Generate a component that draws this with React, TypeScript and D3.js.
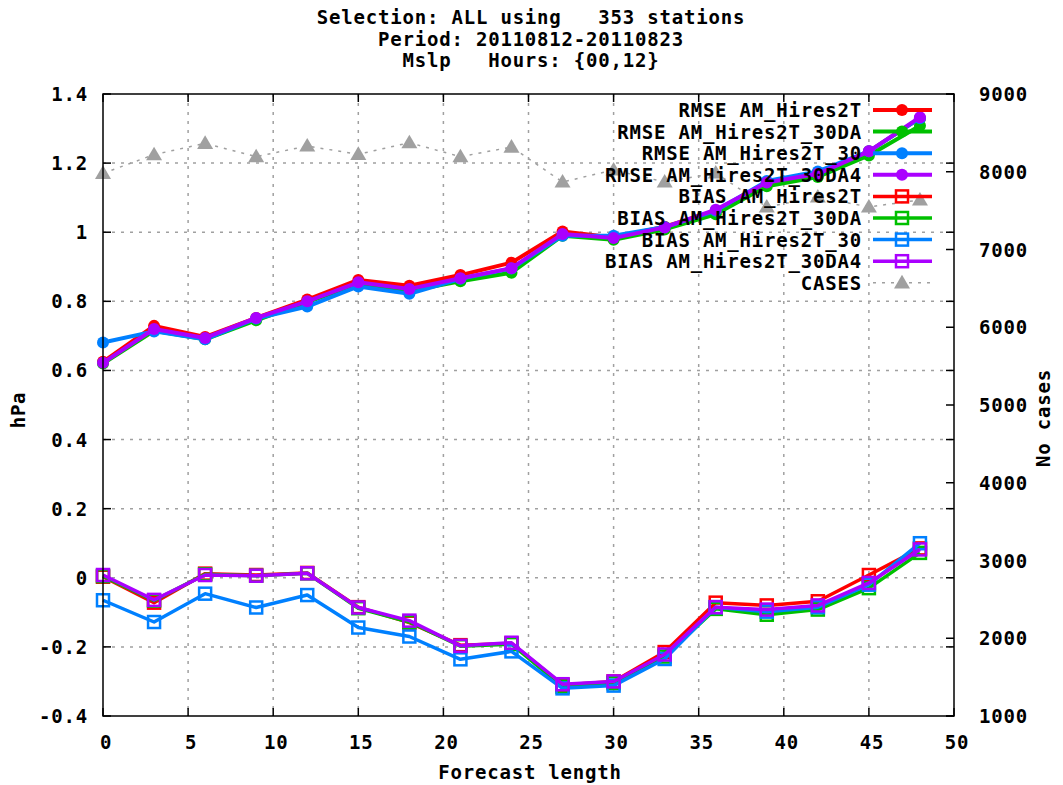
import * as d3 from 'd3';

// forecast lead times (hours)
const leadTimes = [0, 3, 6, 9, 12, 15, 18, 21, 24, 27, 30, 33, 36, 39, 42, 45, 48];

const rmseHires2T = [0.625, 0.729, 0.697, 0.752, 0.805, 0.862, 0.845, 0.876, 0.912, 1.002, 0.985, 1.016, 1.062, 1.142, 1.170, 1.234, 1.330];
const rmseHires2T30DA = [0.620, 0.715, 0.690, 0.745, 0.798, 0.850, 0.830, 0.858, 0.883, 0.990, 0.978, 1.008, 1.052, 1.133, 1.160, 1.222, 1.308];
const rmseHires2T30 = [0.681, 0.713, 0.690, 0.750, 0.785, 0.843, 0.822, 0.865, 0.895, 0.990, 0.990, 1.015, 1.062, 1.148, 1.176, 1.234, 1.330];
const rmseHires2T30DA4 = [0.622, 0.720, 0.694, 0.752, 0.800, 0.855, 0.836, 0.867, 0.896, 0.995, 0.983, 1.014, 1.065, 1.144, 1.169, 1.234, 1.333];

const biasHires2T = [0.003, -0.072, 0.012, 0.008, 0.014, -0.085, -0.130, -0.195, -0.190, -0.310, -0.300, -0.215, -0.072, -0.080, -0.068, 0.008, 0.085];
const biasHires2T30DA = [0.005, -0.066, 0.010, 0.006, 0.013, -0.088, -0.128, -0.198, -0.192, -0.315, -0.305, -0.228, -0.090, -0.107, -0.092, -0.030, 0.072];
const biasHires2T30 = [-0.065, -0.128, -0.046, -0.086, -0.050, -0.144, -0.170, -0.236, -0.213, -0.320, -0.312, -0.235, -0.085, -0.098, -0.085, -0.020, 0.100];
const biasHires2T30DA4 = [0.008, -0.064, 0.008, 0.006, 0.013, -0.086, -0.124, -0.197, -0.188, -0.308, -0.300, -0.222, -0.085, -0.092, -0.080, -0.015, 0.082];

const cases = [7980, 8220, 8366, 8194, 8331, 8224, 8374, 8194, 8318, 7868, 8023, 7868, 7984, 7547, 7675, 7547, 7637];

const titleLines = ['Selection: ALL using   353 stations', 'Period: 20110812-20110823', 'Mslp   Hours: {00,12}'];
const xTicks = [0, 5, 10, 15, 20, 25, 30, 35, 40, 45, 50];
const yTicks = [-0.4, -0.2, 0, 0.2, 0.4, 0.6, 0.8, 1, 1.2, 1.4];
const y2Ticks = [1000, 2000, 3000, 4000, 5000, 6000, 7000, 8000, 9000];

const series = [
    { label: 'RMSE AM_Hires2T', values: rmseHires2T, color: '#ff0000', marker: 'dot' },
    { label: 'RMSE AM_Hires2T_30DA', values: rmseHires2T30DA, color: '#00c000', marker: 'dot' },
    { label: 'RMSE AM_Hires2T_30', values: rmseHires2T30, color: '#0080ff', marker: 'dot' },
    { label: 'RMSE AM_Hires2T_30DA4', values: rmseHires2T30DA4, color: '#aa00ff', marker: 'dot' },
    { label: 'BIAS AM_Hires2T', values: biasHires2T, color: '#ff0000', marker: 'square' },
    { label: 'BIAS AM_Hires2T_30DA', values: biasHires2T30DA, color: '#00c000', marker: 'square' },
    { label: 'BIAS AM_Hires2T_30', values: biasHires2T30, color: '#0080ff', marker: 'square' },
    { label: 'BIAS AM_Hires2T_30DA4', values: biasHires2T30DA4, color: '#aa00ff', marker: 'square' },
];

const width = 1063;
const height = 785;
const plot = { left: 103, right: 954, top: 94, bottom: 716 };
const font = "'DejaVu Sans Mono', monospace";
const gridColor = '#a0a0a0';
const caseColor = '#a0a0a0';

const xScale = d3.scaleLinear().domain([0, 50]).range([plot.left, plot.right]);
const yScale = d3.scaleLinear().domain([-0.4, 1.4]).range([plot.bottom, plot.top]);
const y2Scale = d3.scaleLinear().domain([1000, 9000]).range([plot.bottom, plot.top]);

function Marker({ kind, x, y, color }: { kind: string; x: number; y: number; color: string }) {
    if (kind === 'dot') {
        return <circle cx={x} cy={y} r={6} fill={color} />;
    }
    if (kind === 'square') {
        return <rect x={x - 6} y={y - 6} width={12} height={12} fill="none" stroke={color} strokeWidth={2.5} />;
    }
    // triangle
    const s = 8;
    return <path d={`M${x},${y - s}L${x + s},${y + s * 0.7}L${x - s},${y + s * 0.7}Z`} fill={color} />;
}

const App = () => {
    const line = d3.line<number>()
        .x((_, i) => xScale(leadTimes[i]))
        .y(d => yScale(d));

    const caseLine = d3.line<number>()
        .x((_, i) => xScale(leadTimes[i]))
        .y(d => y2Scale(d));

    const legendY = (i: number) => 110 + i * 21.6;
    const textStyle = { fontFamily: font, fontWeight: 700, fontSize: 19, letterSpacing: 0.8, whiteSpace: 'pre' as const };

    return (
        <svg width={width} height={height} style={{ position: 'absolute', left: 0, top: 0, background: '#fff' }}>
            <rect width={width} height={height} fill="#fff" />

            {/* title */}
            {titleLines.map((t, i) => (
                <text key={t} x={531} y={17 + i * 21.5} textAnchor="middle" dominantBaseline="central" style={textStyle}>{t}</text>
            ))}

            {/* grid */}
            {xTicks.slice(1, -1).map(t => (
                <line key={'gx' + t} x1={xScale(t)} x2={xScale(t)} y1={plot.top} y2={plot.bottom}
                    stroke={gridColor} strokeWidth={1.5} strokeDasharray="3,6" />
            ))}
            {yTicks.slice(1, -1).map(t => (
                <line key={'gy' + t} x1={plot.left} x2={plot.right} y1={yScale(t)} y2={yScale(t)}
                    stroke={gridColor} strokeWidth={1.5} strokeDasharray="3,6" />
            ))}

            {/* ticks */}
            {xTicks.map(t => (
                <g key={'tx' + t}>
                    <line x1={xScale(t)} x2={xScale(t)} y1={plot.bottom} y2={plot.bottom - 8} stroke="#000" strokeWidth={1.5} />
                    <line x1={xScale(t)} x2={xScale(t)} y1={plot.top} y2={plot.top + 8} stroke="#000" strokeWidth={1.5} />
                    <text x={xScale(t) + 3} y={742} textAnchor="middle" dominantBaseline="central" style={textStyle}>{t}</text>
                </g>
            ))}
            {yTicks.map(t => (
                <g key={'ty' + t}>
                    <line x1={plot.left} x2={plot.left + 8} y1={yScale(t)} y2={yScale(t)} stroke="#000" strokeWidth={1.5} />
                    <line x1={plot.right} x2={plot.right - 8} y1={yScale(t)} y2={yScale(t)} stroke="#000" strokeWidth={1.5} />
                    <text x={88} y={yScale(t)} textAnchor="end" dominantBaseline="central" style={textStyle}>{String(t)}</text>
                </g>
            ))}
            {y2Ticks.map(t => (
                <g key={'ty2' + t}>
                    <line x1={plot.right} x2={plot.right - 8} y1={y2Scale(t)} y2={y2Scale(t)} stroke="#000" strokeWidth={1.5} />
                    <text x={979} y={y2Scale(t)} textAnchor="start" dominantBaseline="central" style={textStyle}>{t}</text>
                </g>
            ))}

            {/* axis labels */}
            <text x={530} y={772} textAnchor="middle" dominantBaseline="central" style={textStyle}>Forecast length</text>
            <text transform="translate(18,410) rotate(-90)" textAnchor="middle" dominantBaseline="central" style={textStyle}>hPa</text>
            <text transform="translate(1043,418) rotate(-90)" textAnchor="middle" dominantBaseline="central" style={textStyle}>No cases</text>

            {/* series */}
            {series.map(s => (
                <g key={s.label}>
                    <path d={line(s.values) ?? ''} fill="none" stroke={s.color}
                        strokeWidth={s.marker === 'dot' ? 4 : 3.5} strokeLinejoin="round" />
                    {s.values.map((v, i) => (
                        <Marker key={i} kind={s.marker} x={xScale(leadTimes[i])} y={yScale(v)} color={s.color} />
                    ))}
                </g>
            ))}

            {/* cases on the right axis */}
            <path d={caseLine(cases) ?? ''} fill="none" stroke={caseColor} strokeWidth={1.5} strokeDasharray="3,6" />
            {cases.map((v, i) => (
                <Marker key={'c' + i} kind="triangle" x={xScale(leadTimes[i])} y={y2Scale(v)} color={caseColor} />
            ))}

            {/* legend */}
            {series.map((s, i) => (
                <g key={'lg' + s.label}>
                    <text x={862} y={legendY(i)} textAnchor="end" dominantBaseline="central" style={textStyle}>{s.label}</text>
                    <line x1={873} x2={932} y1={legendY(i)} y2={legendY(i)} stroke={s.color} strokeWidth={s.marker === 'dot' ? 4 : 3.5} />
                    <Marker kind={s.marker} x={902} y={legendY(i)} color={s.color} />
                </g>
            ))}
            <text x={862} y={legendY(8)} textAnchor="end" dominantBaseline="central" style={textStyle}>CASES</text>
            <line x1={873} x2={932} y1={legendY(8)} y2={legendY(8)} stroke={caseColor} strokeWidth={1.5} strokeDasharray="3,6" />
            <Marker kind="triangle" x={902} y={legendY(8)} color={caseColor} />

            {/* border */}
            <rect x={plot.left} y={plot.top} width={plot.right - plot.left} height={plot.bottom - plot.top}
                fill="none" stroke="#000" strokeWidth={1.5} />
        </svg>
    );
};

export default App;
